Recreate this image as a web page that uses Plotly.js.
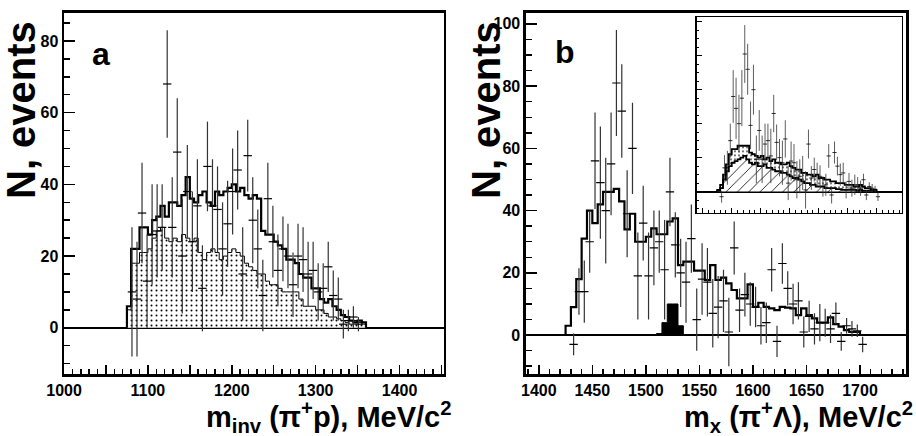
<!DOCTYPE html>
<html><head><meta charset="utf-8">
<script src="https://cdn.plot.ly/plotly-3.0.1.min.js"></script>
<style>html,body{margin:0;padding:0;background:#fff}#chart{width:916px;height:436px}</style>
</head><body><div id="chart"></div>
<script>
// ---------- data ----------
const aBinStart = 1075, bBinStart = 1425, binWidth = 5;
// panel a: total (thick) and background (thin, dotted fill), 5 MeV bins from 1075
const aTotal = [6,22,22,28,28,26,30,31,34,31,35,35,34,37,42,36,35,37,38,35,34,38,37,38,39,40,38,39,37,36,37,36,27,26,26,24,23,22,19,19,18,15,14,14,11,11,8,7,8,6,5,3.5,3,2,1.5,2,1.5];
const aBackground = [5,18,18,21,21,22,25,27,28,25,24,25,24,26,25,24,25,21,19,21,22,21,19,20,21,22,21,20,18,17,16,15,15,13,12,12,11,10,10,10,10,8,6,6,6,5,5,4,3,3,2.5,2,1.5,1,2,1.5,1];
const aPointX = [1081,1087,1093,1099,1105,1111,1117,1123,1129,1135,1141,1147,1153,1159,1165,1171,1177,1183,1189,1195,1201,1207,1213,1219,1225,1231,1237,1243,1249,1255,1261,1267,1273,1279,1285,1291,1297,1303,1309,1315,1321,1327,1333,1339,1345,1351];
const aPointY = [10,8,32,13,26,27,28,68,28,49,20,38,24,34,11,45,34,33,22,29,38,44,15,48,30,22,9,36,24,16,22,20,12,20,19,15,16,10,11,17,9,8,1,2,3,1];
const aPointErr = [18,16,14,13,14,13,12,15,14,15,16,13,14,13,12,12.5,13,12,13,12,12,11,13,10,12,11,10,10,10,10,9,9,9,9,9,9,8,8,7,7,7,6,4,3,3,2];

// panel b: total (thick), 5 MeV bins from 1425
const bTotal = [3,9,18,31,40,36,42,46,46,47,43,34,39,30,30,31.6,34.3,32.4,32.4,36.5,37.5,22.5,23.6,23.6,20.7,20.7,17.7,22.5,17.7,18.5,16.6,14.5,11.8,11.8,16.3,9.1,10.4,9.1,8.6,8,9.1,8.8,8.6,6.4,8.6,6.4,5.4,4,4,5.7,3.5,2.7,1.6,1,1];
// signal (black), bins from 1510
const bSignalStart = 1510;
const bSignal = [0.5,4,10,10,3];
const bPointX = [1432.5,1437.5,1442.5,1447.5,1452.5,1457.5,1462.5,1467.5,1472.5,1477.5,1482.5,1487.5,1492.5,1497.5,1502.5,1507.5,1512.5,1517.5,1522.5,1527.5,1532.5,1537.5,1542.5,1547.5,1552.5,1557.5,1562.5,1567.5,1572.5,1577.5,1582.5,1587.5,1592.5,1597.5,1602.5,1607.5,1612.5,1617.5,1622.5,1627.5,1632.5,1637.5,1642.5,1647.5,1652.5,1657.5,1662.5,1667.5,1672.5,1677.5,1682.5,1687.5,1692.5,1697.5,1702.5];
const bPointY = [-3,14,14,30,56,49,40,55,81,72,39,60,19,36,19,28,30,21,46,29,20,17,31,5,18,17,7,9,11,1,28,8,13,10,9,3,4,21,-2,23,15,10,11,1,6,2,4,4,2,7,-2,3,2,1.4,-3];
const bPointErr = [3.5,7.5,10,10,15.5,18,17,16.5,17,15,14,14.7,14,12,14,12,10,16,11,10.5,11,13,11,10,11.5,11,11,10,10,11,8.5,7,7,7,6.5,6,6.5,7,5,6.5,5.5,6.5,6,5,5,5,6,4.5,4.5,3.5,3,2.5,2.5,2,2.5];
// inset: upper (dotted band top) and lower (hatched) histograms, 5 MeV bins from 1425
const insetUpper = [1,4,10,16,22,25,25,27,27,27,27,23,22,21,20,21,19,20,18,19,17,17,16,16,17,15,14,13,13,11,11,10,10,9,10,8,8,7,7,6,6,5,5,5,4,4,4,3,3,4,3,2,2,1,1];
const insetLower = [0.5,2,7,12,15,17,18,19,20,21,19,17,16,17,15,15,16,14,14,13,12,12,11,11,10,9,8,8,7,6,5,5,4,4,3,3,3,2,2,2,2,1.5,1.5,1,1,1,1,1,0.5,1,0.5,0.5,0.5,0.5,0.3];

// tick labels
const aXTicks = [1000,1050,1100,1150,1200,1250,1300,1350,1400,1450];
const aXTickText = ['1000','','1100','','1200','','1300','','1400',''];

// ---------- helpers ----------
function steps(start, w, vals){
  const x=[start], y=[0];
  vals.forEach((v,i)=>{x.push(start+i*w); y.push(v);});
  x.push(start+vals.length*w); y.push(0);
  return {x,y};
}
const FONT = 'Liberation Sans, Arial, sans-serif';
const aT = steps(aBinStart,binWidth,aTotal), aB = steps(aBinStart,binWidth,aBackground);
const bT = steps(bBinStart,binWidth,bTotal), bS = steps(bSignalStart,binWidth,bSignal);
const iU = steps(bBinStart,binWidth,insetUpper), iL = steps(bBinStart,binWidth,insetLower);

function pts(x,y,e,xa,ya,sz,th){
  return {type:'scatter',mode:'markers',x:x,y:y,xaxis:xa,yaxis:ya,
    marker:{symbol:'line-ew',size:sz,line:{width:th,color:'#000'},color:'#000'},
    error_y:{type:'data',array:e,visible:true,width:0,thickness:th,color:'#333'},
    hoverinfo:'skip',showlegend:false,cliponaxis:true};
}

const traces = [
  {type:'scatter',mode:'lines',x:aB.x,y:aB.y,xaxis:'x',yaxis:'y',line:{shape:'hv',width:1,color:'#000'},
   fill:'tozeroy',fillcolor:'rgba(0,0,0,0)',fillpattern:{shape:'.',size:5,solidity:0.12,fgcolor:'#000',bgcolor:'#fff'},showlegend:false},
  {type:'scatter',mode:'lines',x:aT.x,y:aT.y,xaxis:'x',yaxis:'y',line:{shape:'hv',width:2.2,color:'#000'},showlegend:false},
  pts(aPointX,aPointY,aPointErr,'x','y',6,1.2),

  {type:'scatter',mode:'lines',x:bS.x,y:bS.y,xaxis:'x2',yaxis:'y2',line:{shape:'hv',width:1,color:'#000'},
   fill:'tozeroy',fillcolor:'#000',showlegend:false},
  {type:'scatter',mode:'lines',x:bT.x,y:bT.y,xaxis:'x2',yaxis:'y2',line:{shape:'hv',width:2.2,color:'#000'},showlegend:false},
  pts(bPointX,bPointY,bPointErr,'x2','y2',6,1.2),

  {type:'scatter',mode:'lines',x:iL.x,y:iL.y,xaxis:'x3',yaxis:'y3',line:{shape:'hv',width:1.8,color:'#000'},
   fill:'tozeroy',fillcolor:'rgba(0,0,0,0)',fillpattern:{shape:'/',size:8,solidity:0.1,fgcolor:'#000',bgcolor:'#fff'},showlegend:false},
  {type:'scatter',mode:'lines',x:iU.x,y:iU.y,xaxis:'x3',yaxis:'y3',line:{shape:'hv',width:1.8,color:'#000'},
   fill:'tonexty',fillcolor:'rgba(0,0,0,0)',fillpattern:{shape:'.',size:4,solidity:0.15,fgcolor:'#000',bgcolor:'#fff'},showlegend:false},
  pts(bPointX,bPointY,bPointErr,'x3','y3',3,0.8)
];

const tf = {family:FONT,size:16,color:'#000',weight:'bold'};
function ax(o){
  return Object.assign({showline:true,linewidth:2.5,linecolor:'#000',mirror:true,ticks:'inside',
    tickcolor:'#000',tickwidth:1.5,showgrid:false,zeroline:false,tickfont:tf,fixedrange:true},o);
}
const titleFont = {family:FONT,size:40,weight:'bold',color:'#000'};
const xTitleFont = {family:FONT,size:29,weight:'bold',color:'#000'};
const layout = {
  width:916,height:436,margin:{l:0,r:0,t:0,b:0},paper_bgcolor:'#fff',plot_bgcolor:'#fff',
  showlegend:false,
  xaxis:ax({domain:[0.0699,0.4847],range:[1000,1453],anchor:'y',tickvals:aXTicks,ticktext:aXTickText,ticklen:9,
    minor:{dtick:10,tick0:1000,ticklen:5,tickwidth:1.5,tickcolor:'#000',ticks:'inside',showgrid:false}}),
  yaxis:ax({domain:[0.1422,0.9702],range:[-12.9,87.8],anchor:'x',dtick:20,tick0:0,ticklen:11,
    zeroline:true,zerolinewidth:2,zerolinecolor:'#000',
    minor:{dtick:5,tick0:0,ticklen:6,tickwidth:1.5,tickcolor:'#000',ticks:'inside',showgrid:false}}),
  xaxis2:ax({domain:[0.5742,0.9891],range:[1388,1743],anchor:'y2',dtick:50,tick0:1400,ticklen:9,
    minor:{dtick:10,tick0:1400,ticklen:5,tickwidth:1.5,tickcolor:'#000',ticks:'inside',showgrid:false}}),
  yaxis2:ax({domain:[0.1422,0.9709],range:[-12.5,103.6],anchor:'x2',dtick:20,tick0:0,ticklen:11,
    zeroline:true,zerolinewidth:2,zerolinecolor:'#000',
    minor:{dtick:5,tick0:0,ticklen:6,tickwidth:1.5,tickcolor:'#000',ticks:'inside',showgrid:false}}),
  xaxis3:ax({domain:[0.7609,0.9847],range:[1390,1744],anchor:'y3',linewidth:1.5,dtick:50,tick0:1400,ticklen:5,tickwidth:1,
    showticklabels:false,
    minor:{dtick:10,tick0:1400,ticklen:3,tickwidth:1,tickcolor:'#000',ticks:'inside',showgrid:false}}),
  yaxis3:ax({domain:[0.5122,0.9603],range:[-12.4,102.6],anchor:'x3',linewidth:1.5,dtick:20,tick0:0,ticklen:5,tickwidth:1,
    showticklabels:false,zeroline:true,zerolinewidth:2,zerolinecolor:'#000',
    minor:{dtick:5,tick0:0,ticklen:2.5,tickwidth:1,tickcolor:'#000',ticks:'inside',showgrid:false}}),
  annotations:[
    {text:'a',xref:'paper',yref:'paper',x:101/916,y:1-54/436,xanchor:'center',yanchor:'middle',showarrow:false,
     font:{family:FONT,size:32,weight:'bold',color:'#000'}},
    {text:'b',xref:'paper',yref:'paper',x:565/916,y:1-52/436,xanchor:'center',yanchor:'middle',showarrow:false,
     font:{family:FONT,size:32,weight:'bold',color:'#000'}},
    {text:'N, events',xref:'paper',yref:'paper',x:21/916,y:1-110/436,xanchor:'center',yanchor:'middle',textangle:-90,showarrow:false,
     font:titleFont},
    {text:'N, events',xref:'paper',yref:'paper',x:486/916,y:1-110/436,xanchor:'center',yanchor:'middle',textangle:-90,showarrow:false,
     font:titleFont},
    {text:'m<sub>inv</sub> (π<sup>+</sup>p), MeV/c<sup>2</sup>',xref:'paper',yref:'paper',x:453/916,y:1-417/436,xanchor:'right',yanchor:'middle',showarrow:false,
     font:xTitleFont},
    {text:'m<sub>x</sub> (π<sup>+</sup>Λ), MeV/c<sup>2</sup>',xref:'paper',yref:'paper',x:915/916,y:1-417/436,xanchor:'right',yanchor:'middle',showarrow:false,
     font:xTitleFont}
  ]
};
Plotly.newPlot('chart',traces,layout,{staticPlot:true,displayModeBar:false});
</script></body></html>
